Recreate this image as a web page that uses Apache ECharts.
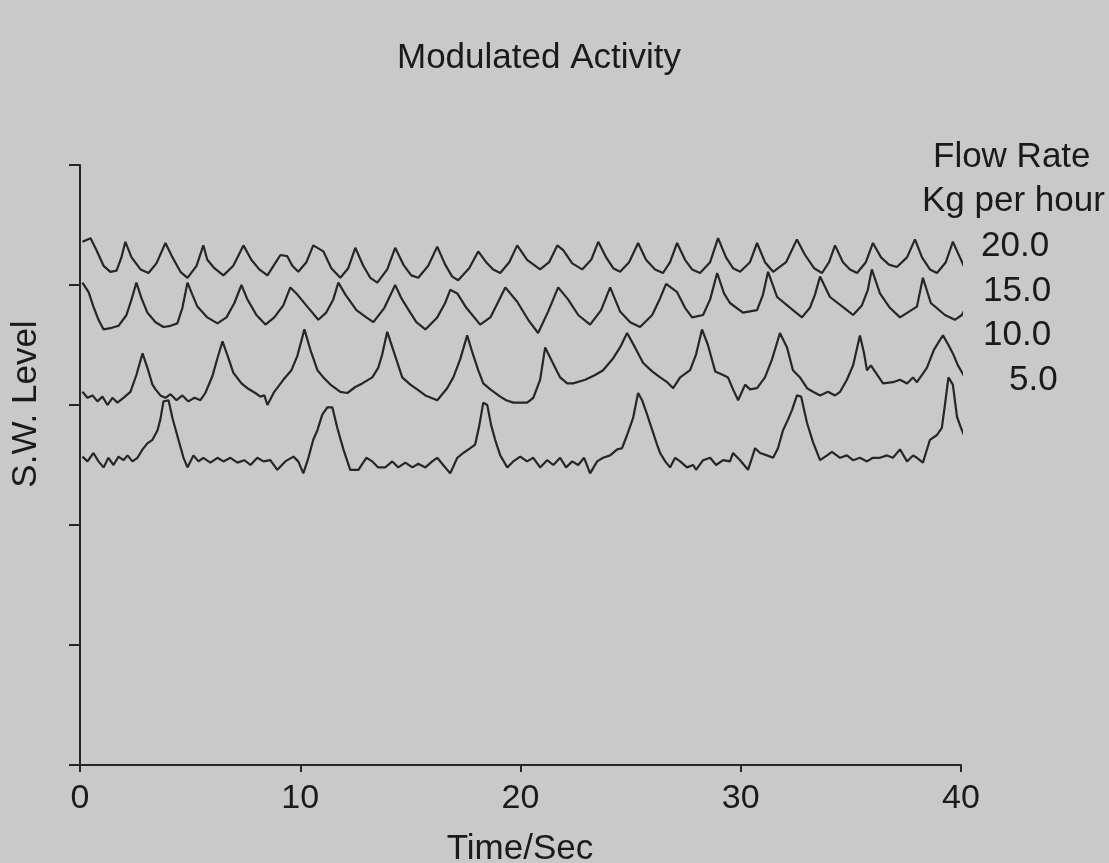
<!DOCTYPE html>
<html>
<head>
<meta charset="utf-8">
<title>Modulated Activity</title>
<script src="https://cdn.jsdelivr.net/npm/echarts@6/dist/echarts.min.js"></script>
<style>
  html, body { margin: 0; padding: 0; background: #c9c9c9; }
  #chart { width: 1109px; height: 863px; }
</style>
</head>
<body>
<div id="chart"></div>
<script>
// Time axis (seconds) and level axis ticks
const timeTicks = [0, 10, 20, 30, 40];
const levelTicks = [0, 10, 20, 30, 40, 50];

// Flow rate labels (Kg per hour), top trace first
const flowRates = ['20.0', '15.0', '10.0', '5.0'];

// S.W. level traces: [time in s, level]
const trace20 = [
  [0.11,43.6],[0.48,43.9],[0.75,42.9],[1.07,41.6],[1.38,41.1],[1.66,41.2],[1.88,42.3],[2.06,43.6],
  [2.34,42.3],[2.75,41.3],[3.11,41.0],[3.47,41.8],[3.88,43.5],[4.20,42.3],[4.56,41.1],[4.88,40.6],
  [5.29,41.6],[5.60,43.3],[5.78,42.1],[6.10,41.4],[6.51,40.8],[6.96,41.6],[7.42,43.3],[7.78,42.1],
  [8.14,41.3],[8.51,40.8],[8.82,41.7],[9.10,42.5],[9.41,42.4],[9.64,41.6],[9.91,41.1],[10.28,41.9],
  [10.59,43.3],[11.05,42.8],[11.41,41.4],[11.82,40.6],[12.18,41.4],[12.50,43.1],[12.86,41.6],[13.18,40.6],
  [13.50,40.2],[13.95,41.3],[14.31,43.1],[14.68,41.7],[15.04,40.8],[15.36,40.6],[15.81,41.6],[16.22,43.2],
  [16.58,41.7],[16.90,40.7],[17.17,40.4],[17.67,41.4],[18.08,42.8],[18.44,41.9],[18.76,41.3],[19.08,41.0],
  [19.49,41.9],[19.85,43.3],[20.30,42.1],[20.89,41.3],[21.30,41.9],[21.67,43.3],[21.94,42.9],[22.35,41.8],
  [22.80,41.3],[23.21,42.1],[23.53,43.6],[23.89,42.3],[24.21,41.4],[24.52,41.1],[24.93,41.9],[25.34,43.5],
  [25.70,42.1],[26.11,41.3],[26.47,41.0],[26.79,41.9],[27.11,43.5],[27.47,42.1],[27.79,41.3],[28.15,41.0],
  [28.61,41.9],[28.97,43.9],[29.33,42.3],[29.65,41.4],[29.97,41.1],[30.42,41.9],[30.74,43.5],[31.10,41.9],
  [31.47,41.1],[32.06,41.9],[32.55,43.8],[32.92,42.5],[33.33,41.4],[33.69,41.0],[34.01,41.9],[34.28,43.3],
  [34.64,41.9],[34.96,41.3],[35.28,41.0],[35.68,41.9],[36.00,43.5],[36.37,42.3],[36.73,41.7],[37.09,41.5],
  [37.55,42.3],[37.91,43.8],[38.23,42.3],[38.59,41.3],[38.91,41.0],[39.31,41.9],[39.63,43.6],[39.95,42.3],
  [40.27,41.0]
];

const trace15 = [
  [0.11,40.2],[0.39,39.4],[0.61,38.2],[0.84,37.1],[1.07,36.3],[1.38,36.4],[1.75,36.6],[2.11,37.5],
  [2.34,38.8],[2.56,40.2],[2.79,38.9],[3.06,37.7],[3.43,36.9],[3.79,36.5],[4.11,36.6],[4.42,36.8],
  [4.65,38.1],[4.88,40.2],[5.10,39.2],[5.33,38.2],[5.78,37.3],[6.24,36.8],[6.65,37.3],[7.01,38.5],
  [7.33,40.0],[7.60,38.8],[8.01,37.5],[8.42,36.7],[8.82,37.3],[9.23,38.3],[9.55,39.8],[9.87,39.2],
  [10.32,38.2],[10.82,37.1],[11.18,37.7],[11.50,38.8],[11.73,40.2],[12.05,39.2],[12.55,37.9],[13.00,37.3],
  [13.32,36.9],[13.82,38.1],[14.31,40.0],[14.59,38.9],[14.86,38.1],[15.27,36.9],[15.68,36.3],[16.22,37.3],
  [16.58,38.5],[16.81,39.6],[17.13,39.3],[17.54,38.1],[18.17,36.7],[18.63,37.3],[18.99,38.6],[19.31,39.8],
  [19.85,38.6],[20.35,37.1],[20.80,36.0],[21.26,37.8],[21.71,39.8],[22.16,38.8],[22.62,37.5],[23.16,36.7],
  [23.66,37.9],[24.07,39.8],[24.52,37.8],[24.98,36.9],[25.43,36.5],[25.98,37.5],[26.34,38.9],[26.61,40.1],
  [27.11,39.4],[27.47,38.1],[27.79,37.3],[28.29,37.5],[28.61,38.8],[28.93,41.0],[29.24,39.3],[29.51,38.5],
  [30.10,37.7],[30.74,37.9],[31.01,39.2],[31.24,41.1],[31.65,39.0],[32.37,37.9],[32.78,37.3],[33.14,38.1],
  [33.37,39.2],[33.60,40.7],[34.05,39.0],[34.82,37.9],[35.10,37.5],[35.50,38.3],[35.77,39.6],[35.95,41.3],
  [36.32,39.3],[36.77,38.1],[37.23,37.3],[38.00,38.2],[38.27,40.6],[38.63,38.5],[39.27,37.5],[39.72,37.1],
  [40.04,37.5],[40.27,38.3]
];

const trace10 = [
  [0.11,31.1],[0.34,30.6],[0.57,30.8],[0.79,30.3],[1.02,30.7],[1.25,30.0],[1.47,30.6],[1.70,30.2],
  [1.97,30.6],[2.29,31.1],[2.56,32.5],[2.84,34.3],[3.06,33.1],[3.29,31.7],[3.43,31.3],[3.65,30.8],
  [3.88,30.6],[4.11,30.9],[4.38,30.4],[4.65,30.8],[4.92,30.3],[5.20,30.6],[5.47,30.4],[5.69,31.0],
  [6.01,32.4],[6.24,33.9],[6.47,35.3],[6.74,33.9],[6.96,32.7],[7.33,31.8],[7.60,31.4],[7.96,31.0],
  [8.19,30.7],[8.37,30.8],[8.51,30.0],[8.82,31.1],[9.23,32.1],[9.60,32.9],[9.87,34.1],[10.19,36.3],
  [10.46,34.6],[10.78,32.9],[11.05,32.3],[11.37,31.7],[11.82,31.1],[12.14,31.0],[12.50,31.5],[12.82,31.8],
  [13.27,32.3],[13.54,33.1],[13.72,34.2],[13.95,36.1],[14.22,34.6],[14.63,32.3],[15.00,31.7],[15.31,31.3],
  [15.68,30.8],[16.22,30.4],[16.67,31.4],[16.95,32.3],[17.26,33.8],[17.58,35.8],[17.81,34.4],[18.08,32.9],
  [18.31,31.8],[18.63,31.3],[19.08,30.7],[19.35,30.4],[19.67,30.2],[20.30,30.2],[20.58,30.6],[20.89,32.1],
  [21.12,34.8],[21.44,33.6],[21.80,32.3],[22.12,31.8],[22.39,31.8],[22.94,32.1],[23.39,32.5],[23.75,32.9],
  [24.21,33.9],[24.52,34.8],[24.84,36.0],[25.20,34.8],[25.57,33.5],[25.98,32.8],[26.34,32.3],[26.66,31.9],
  [26.93,31.4],[27.25,32.3],[27.70,32.9],[27.97,34.2],[28.24,36.3],[28.51,35.0],[28.84,32.8],[29.20,32.5],
  [29.42,32.3],[29.65,31.3],[29.88,30.4],[30.20,31.7],[30.42,31.3],[30.74,31.4],[31.10,32.3],[31.42,33.8],
  [31.78,36.0],[32.10,34.8],[32.37,32.9],[32.69,32.3],[33.01,31.4],[33.28,31.1],[33.60,30.8],[33.96,31.1],
  [34.28,30.8],[34.51,31.1],[34.82,32.1],[35.10,33.3],[35.41,35.8],[35.59,34.4],[35.73,32.9],[35.91,33.3],
  [36.09,32.8],[36.46,31.8],[36.91,31.9],[37.23,32.1],[37.55,31.8],[37.82,32.3],[38.00,31.9],[38.45,33.1],
  [38.77,34.6],[39.04,35.4],[39.18,35.8],[39.43,35.0],[39.63,34.3],[39.86,33.3],[40.18,32.3]
];

const trace5 = [
  [0.11,25.7],[0.34,25.3],[0.61,26.0],[0.84,25.3],[1.07,24.8],[1.29,25.6],[1.52,25.0],[1.75,25.7],
  [1.97,25.4],[2.16,25.8],[2.38,25.3],[2.61,25.6],[2.84,26.3],[3.06,26.8],[3.29,27.1],[3.52,27.9],
  [3.65,28.8],[3.79,30.3],[4.02,30.4],[4.20,28.9],[4.47,27.1],[4.70,25.6],[4.88,24.8],[5.15,25.8],
  [5.38,25.3],[5.60,25.6],[5.92,25.2],[6.24,25.6],[6.51,25.3],[6.83,25.6],[7.15,25.2],[7.46,25.4],
  [7.74,25.0],[8.05,25.6],[8.33,25.3],[8.64,25.4],[8.96,24.6],[9.32,25.3],[9.69,25.7],[9.91,25.3],
  [10.14,24.3],[10.37,25.6],[10.59,27.1],[10.78,27.9],[11.00,29.2],[11.23,29.8],[11.46,29.8],[11.68,28.1],
  [11.96,26.3],[12.27,24.6],[12.64,24.6],[13.00,25.6],[13.27,25.3],[13.54,24.8],[13.86,24.8],[14.18,25.3],
  [14.45,24.8],[14.77,25.2],[15.09,24.8],[15.36,25.1],[15.68,24.8],[15.99,25.3],[16.22,25.6],[16.49,25.0],
  [16.81,24.3],[17.13,25.6],[17.40,26.0],[17.72,26.4],[17.94,26.7],[18.13,28.3],[18.31,30.2],[18.49,30.0],
  [18.67,28.3],[18.85,27.1],[19.08,25.8],[19.40,24.8],[19.67,25.3],[19.99,25.7],[20.30,25.3],[20.58,25.6],
  [20.89,24.8],[21.21,25.4],[21.49,25.0],[21.80,25.6],[22.07,24.8],[22.35,25.3],[22.62,25.0],[22.89,25.6],
  [23.16,24.3],[23.48,25.3],[23.75,25.6],[24.07,25.8],[24.39,26.3],[24.61,26.4],[24.84,27.5],[25.11,28.9],
  [25.34,31.0],[25.52,30.4],[25.75,29.2],[26.02,27.7],[26.20,26.7],[26.34,26.0],[26.57,25.3],[26.79,24.8],
  [27.02,25.6],[27.25,25.3],[27.56,24.8],[27.84,25.0],[27.97,24.6],[28.29,25.4],[28.61,25.6],[28.88,25.0],
  [29.20,25.4],[29.51,25.3],[29.65,26.0],[29.97,25.4],[30.33,24.6],[30.51,25.6],[30.65,26.4],[30.88,26.0],
  [31.19,25.8],[31.47,25.6],[31.69,26.4],[31.92,27.9],[32.15,28.8],[32.33,29.6],[32.55,30.8],[32.74,30.7],
  [33.01,28.5],[33.28,26.9],[33.60,25.4],[33.92,25.8],[34.14,26.1],[34.51,25.6],[34.82,25.8],[35.10,25.4],
  [35.41,25.6],[35.73,25.3],[36.00,25.6],[36.32,25.6],[36.64,25.8],[36.91,25.6],[37.23,26.3],[37.55,25.3],
  [37.82,25.8],[38.00,25.6],[38.27,25.2],[38.59,27.1],[38.91,27.5],[39.13,28.1],[39.27,30.0],[39.43,32.3],
  [39.63,31.7],[39.82,29.0],[40.00,28.1],[40.18,27.3]
];

const traces = [trace20, trace15, trace10, trace5];

const INK = '#1a1a1a';
const FONT = '"Liberation Sans", Arial, Helvetica, sans-serif';

const chart = echarts.init(document.getElementById('chart'), null, { renderer: 'canvas' });

// Flow-rate key: heading plus one value per trace, stacked down the right margin
const keyRows = [
  { text: 'Flow Rate', x: 933, y: 157 },
  { text: 'Kg per hour', x: 922, y: 201 },
  { text: flowRates[0], x: 981, y: 246 },
  { text: flowRates[1], x: 983, y: 291 },
  { text: flowRates[2], x: 983, y: 335 },
  { text: flowRates[3], x: 1009, y: 380 }
];

const textStyle = (t, x, y, size, align) => ({
  type: 'text',
  x: x, y: y,
  silent: true,
  style: {
    text: t,
    fill: INK,
    font: 'normal ' + size + 'px ' + FONT,
    align: align,
    verticalAlign: 'middle'
  }
});

const graphics = [
  textStyle('Modulated Activity', 539, 58, 35, 'center'),
  textStyle('Time/Sec', 520, 849, 35, 'center'),
  {
    type: 'text',
    x: 26, y: 404,
    rotation: Math.PI / 2,
    silent: true,
    style: {
      text: 'S.W. Level',
      fill: INK,
      font: 'normal 35px ' + FONT,
      align: 'center',
      verticalAlign: 'middle'
    }
  }
].concat(keyRows.map(r => textStyle(r.text, r.x, r.y, 35, 'left')));

chart.setOption({
  backgroundColor: '#c9c9c9',
  animation: false,
  grid: { left: 80, right: 148, top: 165, bottom: 98, containLabel: false },
  xAxis: {
    type: 'value',
    min: timeTicks[0],
    max: timeTicks[timeTicks.length - 1],
    interval: timeTicks[1] - timeTicks[0],
    axisLine: { show: true, lineStyle: { color: '#262626', width: 2 } },
    axisTick: { show: true, inside: false, length: 7, lineStyle: { color: '#262626', width: 2 } },
    axisLabel: { show: true, color: INK, fontSize: 34, fontFamily: FONT, margin: 17 },
    splitLine: { show: false }
  },
  yAxis: {
    type: 'value',
    min: levelTicks[0],
    max: levelTicks[levelTicks.length - 1],
    interval: levelTicks[1] - levelTicks[0],
    axisLine: { show: true, lineStyle: { color: '#262626', width: 2 } },
    axisTick: { show: true, inside: false, length: 11, lineStyle: { color: '#262626', width: 2 } },
    axisLabel: { show: false },
    splitLine: { show: false }
  },
  series: traces.map((d, i) => ({
    name: flowRates[i],
    type: 'line',
    data: d,
    showSymbol: false,
    symbol: 'none',
    clip: false,
    smooth: false,
    lineStyle: { color: '#262626', width: 2.2 },
    emphasis: { disabled: true }
  })),
  graphic: graphics
});
</script>
</body>
</html>
